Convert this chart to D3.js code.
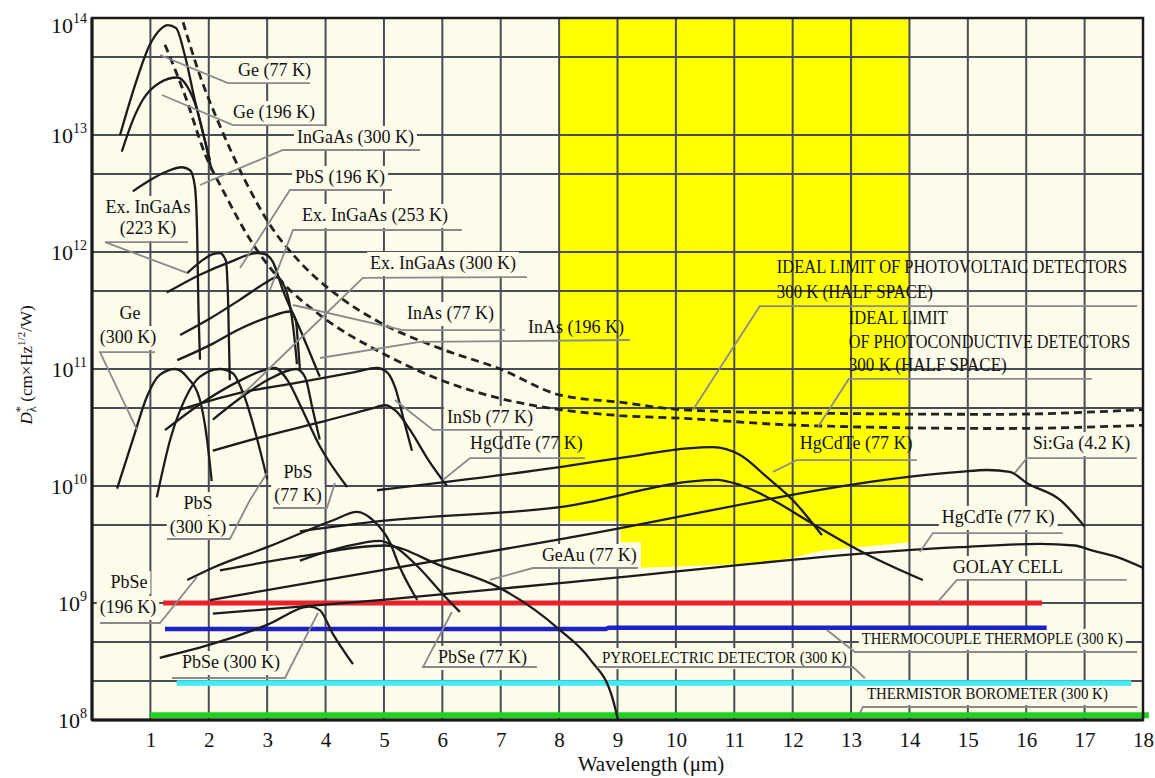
<!DOCTYPE html>
<html><head><meta charset="utf-8">
<script src="https://cdn.jsdelivr.net/npm/d3@7"></script>
<style>body{margin:0;background:#fff}svg{display:block}</style>
</head><body>
<svg id="c" width="1155" height="778"></svg>
<script>
// ---------- DATA ----------
const xTicks = d3.range(1, 19);
const yDecades = [1e8, 1e9, 1e10, 1e11, 1e12, 1e13, 1e14];
const yGrid = [2.15e8, 4.64e8, 1e9, 4.64e9, 1e10, 4.64e10, 1e11, 4.64e11, 1e12, 4.64e12, 1e13, 4.64e13];
const yellowBand = [[8,1e14],[14,1e14],[14,3.3e9],[12.5,2.8e9],[11.6,2.2e9],[9.4,2.0e9],[9.4,3.3e9],[9.05,3.3e9],[9.05,5.0e9],[8,5.0e9]];

// ideal limits (dashed)
const idealPV = [[1.56,9.2e13],[1.85,3.2e13],[2.19,1.2e13],[2.62,4.1e12],[3.05,1.7e12],[3.56,8.2e11],[4.25,4.1e11],[4.93,2.5e11],[5.96,1.5e11],[6.99,1.0e11],[8.01,6.0e10],[9.04,5.2e10],[10.07,4.5e10],[12.12,4.2e10],[15.55,4.1e10],[18.0,4.5e10]];
const idealPC = [[1.25,5.9e13],[1.59,2.2e13],[1.93,7.0e12],[2.28,3.1e12],[2.71,1.27e12],[3.22,5.8e11],[3.90,2.9e11],[4.93,1.4e11],[5.96,8.1e10],[6.99,5.6e10],[8.01,4.5e10],[9.04,4.0e10],[10.07,3.8e10],[12.12,3.3e10],[15.55,3.1e10],[18.0,3.3e10]];

// detectors (solid)
const ge77 = [[0.48,1.0e13],[0.74,2.7e13],[0.99,5.9e13],[1.16,7.9e13],[1.30,8.7e13],[1.44,8.2e13],[1.59,4.8e13],[1.76,2.0e13],[1.93,9.1e12],[2.05,5.0e12]];
const ge196 = [[0.51,7.2e12],[0.70,1.34e13],[0.87,2.0e13],[1.16,2.8e13],[1.46,3.1e13],[1.63,2.6e13],[1.80,1.64e13],[1.90,1.04e13],[2.02,6.1e12]];
const ingaas300 = [[0.70,3.3e12],[0.99,4.1e12],[1.25,4.8e12],[1.54,5.3e12],[1.68,5.0e12],[1.76,3.7e12],[1.80,1.5e12],[1.82,4e11],[1.85,1.2e11]];
const exIngaas223 = [[1.63,6.6e11],[1.85,8.2e11],[2.07,9.6e11],[2.19,9.8e11],[2.29,8.5e11],[2.33,4e11],[2.36,8e10]];
const pbs196 = [[1.28,4.5e11],[1.85,6.4e11],[2.36,8.2e11],[2.83,9.8e11],[2.96,9.6e11],[3.10,8.2e11],[3.27,4.7e11],[3.56,2.2e11],[3.90,8.6e10]];
const exIngaas253 = [[1.51,1.95e11],[2.02,2.7e11],[2.53,3.9e11],[2.96,5.4e11],[3.17,6.1e11],[3.27,5.4e11],[3.39,3.5e11],[3.48,1.6e11],[3.51,1.1e11]];
const inas77 = [[1.46,1.19e11],[2.02,1.6e11],[2.53,2.2e11],[3.05,2.8e11],[3.39,3.1e11],[3.49,2.6e11],[3.53,1.6e11],[3.56,1.0e11]];
const ge300 = [[0.43,9.5e9],[0.70,2.5e10],[0.94,5.8e10],[1.16,8.9e10],[1.42,1.0e11],[1.64,8.4e10],[1.85,5.4e10],[1.97,2.5e10],[2.05,1.1e10]];
const pbs300 = [[1.11,8.0e9],[1.34,2.5e10],[1.59,5.5e10],[1.85,8.6e10],[2.19,1.0e11],[2.41,9.2e10],[2.60,6.0e10],[2.83,2.5e10],[3.0,1.15e10]];
const pbs77 = [[1.25,3.0e10],[1.85,5.0e10],[2.5,7.8e10],[2.95,9.8e10],[3.13,1.02e11],[3.35,8.0e10],[3.6,4.5e10],[3.9,2.2e10],[4.37,9.8e9]];
const exIngaas300 = [[2.07,3.7e10],[2.53,5.6e10],[3.0,8.0e10],[3.5,1.0e11],[3.65,8.5e10],[3.78,4.5e10],[3.9,2.5e10]];
const inas196 = [[1.51,4.5e10],[2.5,6.2e10],[3.5,7.6e10],[4.5,9.4e10],[4.88,1.02e11],[5.05,9.4e10],[5.19,7.0e10],[5.35,3.5e10],[5.48,2.0e10]];
const insb77 = [[2.07,2.0e10],[3.0,2.7e10],[4.0,3.6e10],[4.8,4.6e10],[5.02,4.9e10],[5.2,4.4e10],[5.45,3.0e10],[5.75,1.7e10],[6.08,1.0e10]];
const hgcdteA = [[4.88,9.2e9],[8.01,1.45e10],[9.38,1.84e10],[10.2,2.1e10],[10.63,2.15e10],[11.10,1.84e10],[11.56,1.19e10],[12.0,7.6e9],[12.5,3.8e9]];
const hgcdteB = [[3.56,4.1e9],[4.93,5.0e9],[8.01,6.6e9],[10.70,1.13e10],[11.10,1.02e10],[11.66,7.6e9],[12.24,5.1e9],[13.15,2.8e9],[14.23,1.57e9]];
const siga = [[2.02,1.06e9],[8.01,3.5e9],[14.86,1.32e10],[15.33,1.37e10],[15.72,1.32e10],[16.01,1.06e10],[16.58,7.6e9],[17.0,4.5e9]];
const hgcdteC = [[2.07,8.1e8],[4.93,1.06e9],[8.01,1.48e9],[14.86,3.0e9],[16.23,3.2e9],[16.83,3.1e9],[17.14,2.8e9],[17.52,2.5e9],[18.0,2.0e9]];
const geau = [[2.19,1.9e9],[3.56,2.5e9],[5.02,3.1e9],[5.96,2.1e9],[6.99,1.34e9],[8.01,5.9e8],[8.53,3.3e8],[8.92,1.5e8],[9.01,1.0e8]];
const pbse196 = [[1.63,1.57e9],[2.07,2.0e9],[3.0,3.0e9],[4.13,5.1e9],[4.54,6.0e9],[4.81,5.1e9],[5.10,3.3e9],[5.27,2.03e9],[5.57,1.06e9]];
const pbse77 = [[3.56,2.3e9],[4.3,3.0e9],[4.93,3.4e9],[5.2,3.0e9],[5.6,2.0e9],[6.0,1.2e9],[6.3,8.4e8]];
const pbse300 = [[1.16,3.4e8],[2.02,4.4e8],[3.0,6.5e8],[3.73,9.3e8],[3.9,8.7e8],[4.13,5.4e8],[4.47,3.0e8]];

// thermal detectors (flat)
const golay = [[1.22,1e9],[16.27,1e9]];
const thermocouple = [[1.25,6.0e8],[8.8,6.0e8],[8.85,6.15e8],[16.35,6.15e8]];
const pyroelectric = [[1.45,2.07e8],[17.8,2.07e8]];
const thermistor = [[1.0,1.1e8],[18.1,1.1e8]];

const solidCurves = [ge77, ge196, ingaas300, exIngaas223, pbs196, exIngaas253, inas77, ge300, pbs300, pbs77, exIngaas300, inas196, insb77, hgcdteA, hgcdteB, siga, hgcdteC, geau, pbse196, pbse77, pbse300];
const dashedCurves = [idealPV, idealPC];
const thermalCurves = [golay, thermocouple, pyroelectric, thermistor];
const thermalColors = ["#e8212b", "#1c22c4", "#3eeef4", "#22d022"];
const thermalWidths = [5, 4.5, 5.5, 6];

// annotations: text at [wavelength µm, log10 D*]
const labels = [
 {t:"Ge (77 K)", x:2.50, l:13.504},
 {t:"Ge (196 K)", x:2.414, l:13.145},
 {t:"InGaAs (300 K)", x:3.510, l:12.932},
 {t:"PbS (196 K)", x:3.476, l:12.590},
 {t:"Ex. InGaAs (253 K)", x:3.596, l:12.265},
 {t:"Ex. InGaAs (300 K)", x:4.76, l:11.855},
 {t:"InAs (77 K)", x:5.394, l:11.427},
 {t:"InAs (196 K)", x:7.466, l:11.308},
 {t:"InSb (77 K)", x:6.079, l:10.538},
 {t:"HgCdTe (77 K)", x:6.473, l:10.316},
 {t:"IDEAL LIMIT OF PHOTOVOLTAIC DETECTORS", x:11.729, l:11.821, w:6.0},
 {t:"300 K (HALF SPACE)", x:11.729, l:11.607, w:2.671},
 {t:"IDEAL LIMIT", x:12.962, l:11.385, w:1.695},
 {t:"OF PHOTOCONDUCTIVE DETECTORS", x:12.962, l:11.179, w:4.82},
 {t:"300 K (HALF SPACE)", x:12.962, l:10.983, w:2.705},
 {t:"HgCdTe (77 K)", x:12.123, l:10.316},
 {t:"Si:Ga (4.2 K)", x:16.113, l:10.316},
 {t:"HgCdTe (77 K)", x:14.555, l:9.684},
 {t:"GOLAY CELL", x:14.743, l:9.256},
 {t:"THERMOCOUPLE THERMOPLE (300 K)", x:13.185, l:8.650, w:4.47, s:1},
 {t:"PYROELECTRIC DETECTOR (300 K)", x:8.733, l:8.487, w:4.195, s:1},
 {t:"THERMISTOR BOROMETER (300 K)", x:13.271, l:8.179, w:4.127, s:1},
 {t:"Ex. InGaAs", x:0.959, l:12.333, a:"middle"},
 {t:"(223 K)", x:0.959, l:12.154, a:"middle"},
 {t:"Ge", x:0.651, l:11.427, a:"middle"},
 {t:"(300 K)", x:0.616, l:11.222, a:"middle"},
 {t:"PbS", x:1.815, l:9.803, a:"middle"},
 {t:"(300 K)", x:1.815, l:9.598, a:"middle"},
 {t:"PbS", x:3.527, l:10.068, a:"middle"},
 {t:"(77 K)", x:3.527, l:9.872, a:"middle"},
 {t:"PbSe", x:0.634, l:9.128, a:"middle"},
 {t:"(196 K)", x:0.616, l:8.915, a:"middle"},
 {t:"PbSe (300 K)", x:1.541, l:8.444},
 {t:"PbSe (77 K)", x:5.925, l:8.487},
 {t:"GeAu (77 K)", x:7.705, l:9.359}
];
const leaders = [
 [[1.164,13.684],[2.329,13.444],[3.733,13.444]],
 [[1.199,13.342],[2.414,13.085],[3.990,13.085]],
 [[1.849,12.573],[3.271,12.872],[5.616,12.872]],
 [[2.534,11.863],[3.390,12.530],[5.137,12.530]],
 [[3.048,11.675],[3.442,12.188],[6.336,12.188]],
 [[2.534,10.761],[4.640,11.778],[7.449,11.786]],
 [[3.442,11.547],[5.325,11.333],[7.072,11.333]],
 [[3.904,11.094],[5.616,11.231],[9.212,11.248]],
 [[5.188,10.735],[5.839,10.479],[7.551,10.479]],
 [[6.010,10.051],[6.473,10.239],[8.442,10.239]],
 [[10.291,10.650],[11.438,11.538],[17.90,11.538]],
 [[12.432,10.504],[12.962,10.915],[17.123,10.915]],
 [[11.661,10.120],[12.072,10.222],[14.127,10.222]],
 [[15.805,10.111],[16.010,10.239],[17.894,10.239]],
 [[14.178,9.436],[14.401,9.598],[16.627,9.598]],
 [[14.486,9.009],[14.812,9.197],[17.723,9.197]],
 [[12.586,8.769],[13.065,8.581],[17.90,8.581]],
 [[8.647,8.453],[13.031,8.453],[13.236,8.359]],
 [[13.151,8.060],[13.202,8.111],[17.90,8.111]],
 [[1.644,12.085],[0.223,12.085],[1.627,11.821]],
 [[1.079,11.145],[0.137,11.145],[0.771,10.479]],
 [[1.284,9.547],[2.363,9.547],[2.705,9.880],[2.997,10.111]],
 [[3.099,9.812],[4.024,9.812],[4.161,10.026]],
 [[0.137,8.829],[1.164,8.829],[1.798,9.222]],
 [[1.370,8.359],[3.305,8.359],[3.870,8.915]],
 [[7.620,8.453],[5.668,8.453],[6.164,8.923]],
 [[9.349,9.299],[7.551,9.299],[6.815,9.197]]
];

// ---------- CHART ----------
const svg = d3.select("#c");
const FONT = "'Liberation Serif','Times New Roman',serif";
const x = d3.scaleLinear().domain([0, 18]).range([92, 1143]);
const y = d3.scaleLog().domain([1e8, 1e14]).range([720, 18]);
const yl = l => y(Math.pow(10, l));
const CREAM = "#fdfbe9";

const gBg = svg.append("g"), gYel = svg.append("g"), gGrid = svg.append("g"),
      gLblBg = svg.append("g"), gThermal = svg.append("g"), gCurves = svg.append("g"),
      gLead = svg.append("g"), gText = svg.append("g"), gAxis = svg.append("g");

gBg.append("rect").attr("x", x(0)).attr("y", y(1e14))
  .attr("width", x(18) - x(0)).attr("height", y(1e8) - y(1e14)).attr("fill", CREAM);

const yellowPx = yellowBand.map(d => [x(d[0]), y(d[1])]);
gYel.append("path").attr("d", "M" + yellowPx.join("L") + "Z").attr("fill", "#ffff00");

gGrid.selectAll("line.v").data(xTicks.filter(t => t < 18)).join("line")
  .attr("x1", d => x(d)).attr("x2", d => x(d)).attr("y1", y(1e14)).attr("y2", y(1e8))
  .attr("stroke", "#4a4d55").attr("stroke-width", 2);
gGrid.selectAll("line.h").data(yGrid).join("line")
  .attr("x1", x(0)).attr("x2", x(18)).attr("y1", d => y(d)).attr("y2", d => y(d))
  .attr("stroke", "#4a4d55").attr("stroke-width", 2);

const lineGen = d3.line().x(d => x(d[0])).y(d => y(d[1]));
const smooth = d3.line().x(d => x(d[0])).y(d => y(d[1])).curve(d3.curveMonotoneX);

gThermal.selectAll("path").data(thermalCurves).join("path")
  .attr("d", lineGen).attr("fill", "none")
  .attr("stroke", (d, i) => thermalColors[i]).attr("stroke-width", (d, i) => thermalWidths[i]);

gCurves.selectAll("path.s").data(solidCurves).join("path")
  .attr("d", smooth).attr("fill", "none").attr("stroke", "#1c1c1c")
  .attr("stroke-width", 2.3).attr("stroke-linejoin", "round");
gCurves.selectAll("path.d").data(dashedCurves).join("path")
  .attr("d", smooth).attr("fill", "none").attr("stroke", "#222")
  .attr("stroke-width", 2.8).attr("stroke-dasharray", "8,5");

const leadGen = d3.line().x(d => x(d[0])).y(d => yl(d[1]));
gLead.selectAll("path").data(leaders).join("path")
  .attr("d", leadGen).attr("fill", "none").attr("stroke", "#8a8a8a").attr("stroke-width", 1.8);

labels.forEach(L => {
  const t = gText.append("text")
    .attr("x", x(L.x)).attr("y", yl(L.l))
    .attr("text-anchor", L.a || "start")
    .attr("font-family", FONT).attr("font-size", L.s ? 16 : 18).attr("fill", "#111")
    .text(L.t);
  if (L.w) t.attr("textLength", x(L.x + L.w) - x(L.x)).attr("lengthAdjust", "spacingAndGlyphs");
  const b = t.node().getBBox();
  const pts = [[b.x, b.y], [b.x + b.width, b.y], [b.x, b.y + b.height], [b.x + b.width, b.y + b.height], [b.x + b.width / 2, b.y + b.height / 2]];
  const inYellow = pts.some(p => d3.polygonContains(yellowPx, p));
  if (!inYellow) {
    gLblBg.append("rect").attr("x", b.x - 3).attr("y", b.y - 1)
      .attr("width", b.width + 6).attr("height", b.height + 3).attr("fill", CREAM);
  }
});

// axes
const xAxis = gAxis.append("g").attr("transform", `translate(0,${y(1e8)})`)
  .call(d3.axisBottom(x).tickValues(xTicks).tickSize(0).tickPadding(12));
xAxis.select(".domain").remove();
xAxis.selectAll("text").attr("font-family", FONT).attr("font-size", 21).attr("fill", "#111");

const yAxis = gAxis.append("g").attr("transform", `translate(${x(0)},0)`)
  .call(d3.axisLeft(y).tickValues(yDecades).tickSize(0).tickFormat(() => ""));
yAxis.select(".domain").remove();
yAxis.selectAll(".tick").each(function (d) {
  const g = d3.select(this);
  g.select("text").remove();
  const ty = y(d);
  const t = g.append("text").attr("x", -5).attr("y", Math.max(7, 32 - ty))
    .attr("text-anchor", "end").attr("font-family", FONT).attr("fill", "#111");
  t.append("tspan").attr("font-size", 22).text("10");
  t.append("tspan").attr("font-size", 14).attr("dy", -10).text(Math.round(Math.log10(d)));
});

// frame
gAxis.append("rect").attr("x", x(0)).attr("y", y(1e14))
  .attr("width", x(18) - x(0)).attr("height", y(1e8) - y(1e14))
  .attr("fill", "none").attr("stroke", "#1a1a1a").attr("stroke-width", 2.5);
gAxis.append("line").attr("x1", x(0)).attr("x2", x(0)).attr("y1", y(1e14)).attr("y2", y(1e8))
  .attr("stroke", "#1a1a1a").attr("stroke-width", 3);
gAxis.append("line").attr("x1", x(0)).attr("x2", x(18)).attr("y1", y(1e8)).attr("y2", y(1e8))
  .attr("stroke", "#1a1a1a").attr("stroke-width", 3);

// axis titles
gAxis.append("text").attr("x", 651).attr("y", 771).attr("text-anchor", "middle")
  .attr("font-family", FONT).attr("font-size", 21).attr("fill", "#111").text("Wavelength (μm)");

const yt = gAxis.append("text").attr("transform", "translate(32,365) rotate(-90)")
  .attr("text-anchor", "middle").attr("font-family", FONT).attr("font-size", 17).attr("fill", "#111");
yt.append("tspan").attr("font-style", "italic").text("D");
yt.append("tspan").attr("font-size", 12).attr("dy", 4).text("λ");
yt.append("tspan").attr("font-size", 13).attr("dy", -12).attr("dx", -6).text("*");
yt.append("tspan").attr("dy", 8).text(" (cm×Hz");
yt.append("tspan").attr("font-size", 11).attr("dy", -7).text("1/2");
yt.append("tspan").attr("dy", 7).text("/W)");
</script>
</body></html>
